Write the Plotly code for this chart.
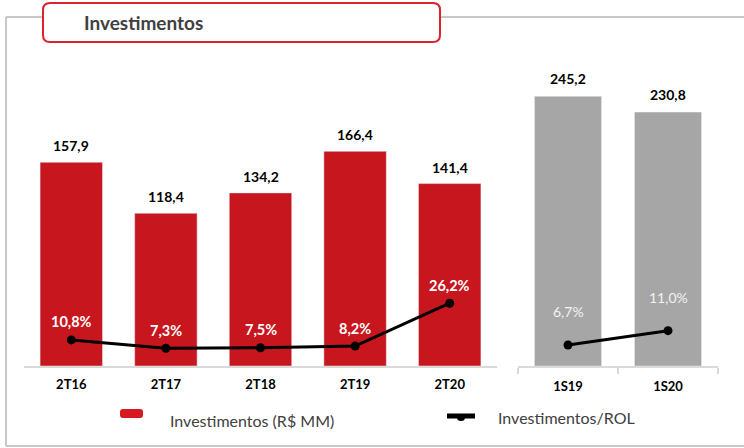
import plotly.graph_objects as go

# ---- data ----
cats_q = ["2T16", "2T17", "2T18", "2T19", "2T20"]
inv_q = [157.9, 118.4, 134.2, 166.4, 141.4]
rol_q = [10.8, 7.3, 7.5, 8.2, 26.2]

cats_s = ["1S19", "1S20"]
inv_s = [245.2, 230.8]
rol_s = [6.7, 11.0]

title_text = "Investimentos"
legend_bar = "Investimentos (R$ MM)"
legend_line = "Investimentos/ROL"

W, H = 744, 448
FONT = "Lato"
RED = "#c8161e"
GRAY = "#a6a6a6"


def px(x):
    return x / W


def py(y):
    return (H - y) / H


def fmt(v, pct=False):
    s = f"{v:.1f}".replace(".", ",")
    return s + "%" if pct else s


ydom = [py(366), py(60)]
dom_h = 306

fig = go.Figure()
fig.add_trace(go.Bar(x=cats_q, y=inv_q, marker_color=RED, width=0.66,
                     xaxis="x", yaxis="y", showlegend=False, hoverinfo="skip"))
fig.add_trace(go.Bar(x=cats_s, y=inv_s, marker_color=GRAY, width=0.67,
                     xaxis="x2", yaxis="y2", showlegend=False, hoverinfo="skip"))
fig.add_trace(go.Scatter(x=cats_q, y=rol_q, mode="lines+markers",
                         line=dict(color="black", width=3), marker=dict(size=9, color="black"),
                         xaxis="x", yaxis="y3", showlegend=False))
fig.add_trace(go.Scatter(x=cats_s, y=rol_s, mode="lines+markers",
                         line=dict(color="black", width=3), marker=dict(size=9, color="black"),
                         xaxis="x2", yaxis="y4", showlegend=False))

tickfont = dict(family=FONT, size=13, color="black", weight="bold")
fig.update_layout(
    width=W, height=H, margin=dict(l=0, r=0, t=0, b=0),
    paper_bgcolor="white", plot_bgcolor="rgba(0,0,0,0)",
    bargap=0.3,
    xaxis=dict(domain=[px(24), px(497)], anchor="y", showline=True, linecolor="#d9d9d9",
               linewidth=1.5, ticks="", tickfont=tickfont, ticklabelstandoff=6,
               showgrid=False, fixedrange=True),
    xaxis2=dict(domain=[px(518), px(718)], anchor="y2", showline=True, linecolor="#d9d9d9",
                linewidth=1.5, ticks="outside", tickson="boundaries", ticklen=6,
                tickcolor="#d9d9d9", tickwidth=1.5, tickfont=tickfont, ticklabelstandoff=8,
                showgrid=False),
    yaxis=dict(domain=ydom, range=[0, dom_h / 1.29], visible=False, showgrid=False),
    yaxis2=dict(domain=ydom, range=[0, dom_h / 1.10], visible=False, anchor="x2", showgrid=False),
    yaxis3=dict(overlaying="y", anchor="x", range=[-0.17, -0.17 + dom_h / 2.38], visible=False),
    yaxis4=dict(overlaying="y2", anchor="x2", range=[0.39, 0.39 + dom_h / 3.33], visible=False),
)

ann = []
for c, v in zip(cats_q, inv_q):
    ann.append(dict(x=c, y=v, xref="x", yref="y", text=fmt(v), showarrow=False,
                    yanchor="bottom", yshift=6,
                    font=dict(family=FONT, size=14, color="black", weight="bold")))
for c, v in zip(cats_s, inv_s):
    ann.append(dict(x=c, y=v, xref="x2", yref="y2", text=fmt(v), showarrow=False,
                    yanchor="bottom", yshift=7,
                    font=dict(family=FONT, size=14, color="black", weight="bold")))
for c, v in zip(cats_q, rol_q):
    ann.append(dict(x=c, y=v, xref="x", yref="y3", text=fmt(v, True), showarrow=False,
                    yanchor="middle", yshift=18,
                    font=dict(family=FONT, size=14.5, color="white", weight="bold")))
for c, v in zip(cats_s, rol_s):
    ann.append(dict(x=c, y=v, xref="x2", yref="y4", text=fmt(v, True), showarrow=False,
                    yanchor="middle", yshift=33,
                    font=dict(family=FONT, size=14, color="#f2f2f2")))

# title
ann.append(dict(x=px(82), y=py(23), xref="paper", yref="paper", text=title_text,
                showarrow=False, xanchor="left", yanchor="middle",
                font=dict(family=FONT, size=19, color="#3f3f3f", weight="bold")))
# legend text
ann.append(dict(x=px(168), y=py(420), xref="paper", yref="paper", text=legend_bar,
                showarrow=False, xanchor="left", yanchor="middle",
                font=dict(family=FONT, size=16, color="#404040")))
ann.append(dict(x=px(496), y=py(417), xref="paper", yref="paper", text=legend_line,
                showarrow=False, xanchor="left", yanchor="middle",
                font=dict(family=FONT, size=16, color="#404040")))
fig.update_layout(annotations=ann)


def rrect(x0, y0, x1, y1, r):
    pts = [
        f"M {px(x0 + r)} {py(y0)}",
        f"L {px(x1 - r)} {py(y0)}",
        f"Q {px(x1)} {py(y0)} {px(x1)} {py(y0 + r)}",
        f"L {px(x1)} {py(y1 - r)}",
        f"Q {px(x1)} {py(y1)} {px(x1 - r)} {py(y1)}",
        f"L {px(x0 + r)} {py(y1)}",
        f"Q {px(x0)} {py(y1)} {px(x0)} {py(y1 - r)}",
        f"L {px(x0)} {py(y0 + r)}",
        f"Q {px(x0)} {py(y0)} {px(x0 + r)} {py(y0)}",
        "Z",
    ]
    return " ".join(pts)


FR = "#c8c8c8"
shapes = [
    # frame
    dict(type="line", xref="paper", yref="paper", x0=px(6), x1=px(6), y0=py(17), y1=py(446),
         line=dict(color=FR, width=2)),
    dict(type="line", xref="paper", yref="paper", x0=px(6), x1=px(744), y0=py(446), y1=py(446),
         line=dict(color=FR, width=2)),
    dict(type="line", xref="paper", yref="paper", x0=px(6), x1=px(744), y0=py(17), y1=py(17),
         line=dict(color=FR, width=2)),
    # title box
    dict(type="path", xref="paper", yref="paper", path=rrect(43, 3, 440, 42, 7),
         line=dict(color="#d9232d", width=2), fillcolor="white"),
    # legend symbols
    dict(type="path", xref="paper", yref="paper", path=rrect(120, 409, 143, 418, 3),
         line=dict(color="#d71920", width=0), fillcolor="#d71920"),
    dict(type="line", xref="paper", yref="paper", x0=px(447), x1=px(475), y0=py(416), y1=py(416),
         line=dict(color="black", width=5)),
    dict(type="circle", xref="paper", yref="paper", x0=px(457), x1=px(465), y0=py(414), y1=py(421),
         line=dict(color="black", width=0), fillcolor="black"),
]
fig.update_layout(shapes=shapes)

fig.write_html("out.html", config={"displayModeBar": False},
               post_script="document.body.style.margin='0';document.body.style.overflow='hidden';")
